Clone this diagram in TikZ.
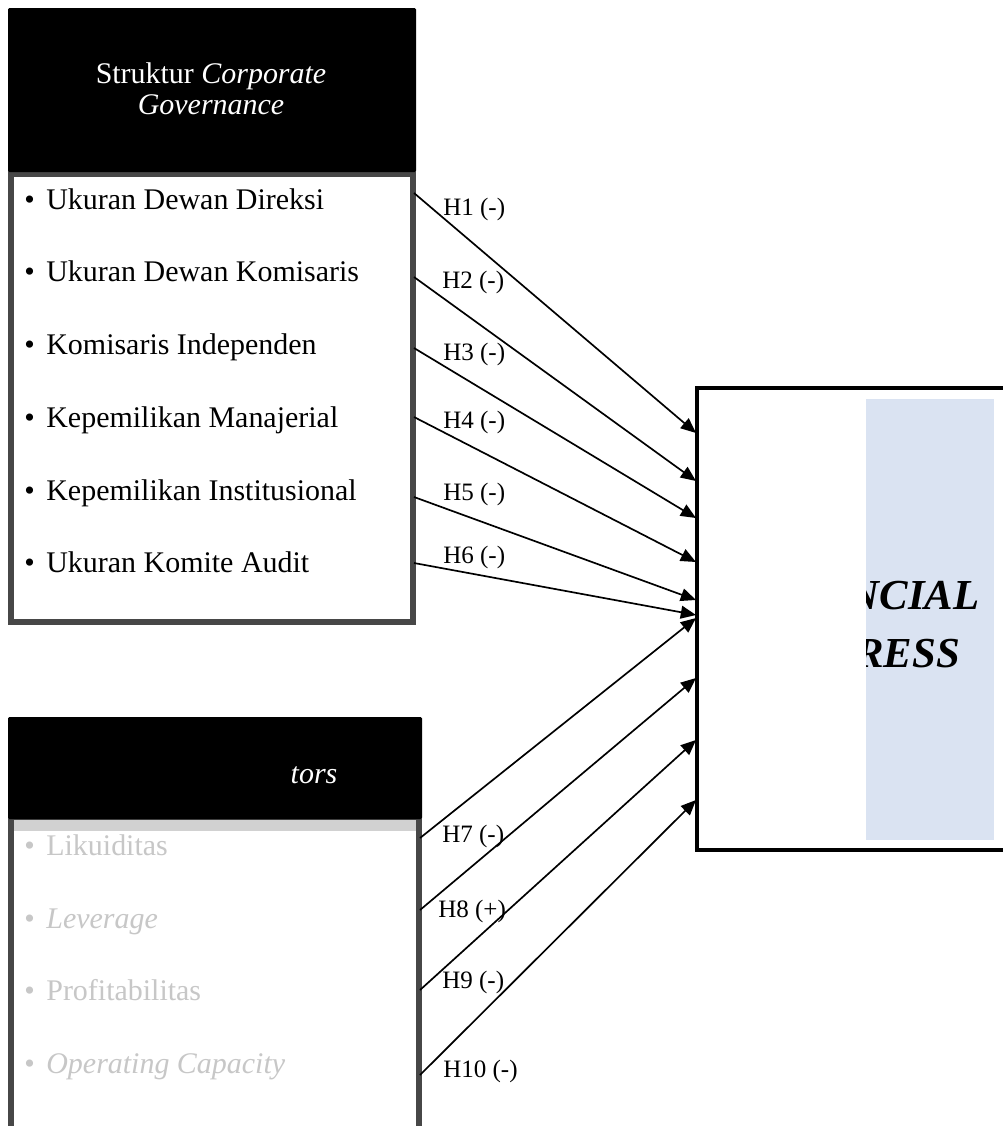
\documentclass[tikz,border=0pt]{standalone}
\usepackage{fontspec}
\setmainfont{Liberation Serif}
\usetikzlibrary{arrows.meta}
\definecolor{fdblue}{RGB}{218,227,242}

\tikzset{
  itemtext/.style={anchor=base west, inner sep=0pt, font=\fontsize{21.3pt}{25pt}\selectfont},
  fadetext/.style={itemtext, text=black!22},
  headtext/.style={anchor=base, inner sep=0pt, text=white, font=\fontsize{21.3pt}{25pt}\selectfont},
  fdtext/.style={anchor=base, inner sep=0pt, font=\fontsize{30.4pt}{34pt}\selectfont\bfseries\itshape},
  hyplabel/.style={anchor=base west, inner sep=0pt, font=\fontsize{17.8pt}{20pt}\selectfont},
  hyparrow/.style={-{Triangle[length=0.38cm,width=0.32cm]}, line width=1.2pt},
  listbox/.style={draw=black!72, line width=4.3pt, fill=white},
}

\begin{document}
\begin{tikzpicture}[x=0.025cm, y=-0.025cm]
    \useasboundingbox (0,0) rectangle (1003,1126);
    \clip (0,0) rectangle (1003,1126);

    % Struktur Corporate Governance
    \draw [listbox] (11,174) rectangle (413,622);
    \fill [black, rounded corners=1pt] (8,8) rectangle (416,172);
    \node [headtext] (cgheadA) at (211,83) {Struktur \textit{Corporate}};
    \node [headtext] (cgheadB) at (211,114) {\textit{Governance}};
    \node [itemtext] (cg1) at (24,209) {\textbullet\hspace{0.29cm}Ukuran Dewan Direksi};
    \node [itemtext] (cg2) at (24,281) {\textbullet\hspace{0.29cm}Ukuran Dewan Komisaris};
    \node [itemtext] (cg3) at (24,354) {\textbullet\hspace{0.29cm}Komisaris Independen};
    \node [itemtext] (cg4) at (24,427) {\textbullet\hspace{0.29cm}Kepemilikan Manajerial};
    \node [itemtext] (cg5) at (24,500) {\textbullet\hspace{0.29cm}Kepemilikan Institusional};
    \node [itemtext] (cg6) at (24,572) {\textbullet\hspace{0.29cm}Ukuran Komite Audit};

    % second list
    \draw [listbox] (11,821) rectangle (419,1160);
    \fill [black!18] (14,820) rectangle (416,831);
    \fill [black, rounded corners=1pt] (8,717) rectangle (422,819);
    \node [headtext] (fihead) at (314,783) {\textit{tors}};
    \node [fadetext] (fi1) at (24,855) {\textbullet\hspace{0.29cm}Likuiditas};
    \node [fadetext] (fi2) at (24,928) {\textbullet\hspace{0.29cm}\textit{Leverage}};
    \node [fadetext] (fi3) at (24,1000) {\textbullet\hspace{0.29cm}Profitabilitas};
    \node [fadetext] (fi4) at (24,1073) {\textbullet\hspace{0.29cm}\textit{Operating Capacity}};

    % Financial Distress
    \draw [line width=2.8pt, fill=white] (697,388) rectangle (1030,850);
    \fill [fdblue] (866,399) rectangle (994,840);
    \begin{scope}
        \clip (866,399) rectangle (994,840);
        \node [fdtext] (fdA) at (862,609) {FINANCIAL};
        \node [fdtext] (fdB) at (859,667) {DISTRESS};
    \end{scope}

    \coordinate (out1) at (414,193);
    \coordinate (out2) at (414,277);
    \coordinate (out3) at (414,348);
    \coordinate (out4) at (414,417);
    \coordinate (out5) at (414,497);
    \coordinate (out6) at (414,563);
    \coordinate (out7) at (420,838);
    \coordinate (out8) at (420,910);
    \coordinate (out9) at (420,990);
    \coordinate (out10) at (420,1075);
    \coordinate (in1) at (696,433);
    \coordinate (in2) at (696,481);
    \coordinate (in3) at (696,518);
    \coordinate (in4) at (696,562);
    \coordinate (in5) at (696,600);
    \coordinate (in6) at (696,615);
    \coordinate (in7) at (696,618);
    \coordinate (in8) at (696,678);
    \coordinate (in9) at (696,740);
    \coordinate (in10) at (696,800);

    \draw [hyparrow] (out1) -- (in1);
    \draw [hyparrow] (out2) -- (in2);
    \draw [hyparrow] (out3) -- (in3);
    \draw [hyparrow] (out4) -- (in4);
    \draw [hyparrow] (out5) -- (in5);
    \draw [hyparrow] (out6) -- (in6);
    \draw [hyparrow] (out7) -- (in7);
    \draw [hyparrow] (out8) -- (in8);
    \draw [hyparrow] (out9) -- (in9);
    \draw [hyparrow] (out10) -- (in10);

    \node [hyplabel] (lh1) at (443,215) {H1 (-)};
    \node [hyplabel] (lh2) at (442,288) {H2 (-)};
    \node [hyplabel] (lh3) at (443,360) {H3 (-)};
    \node [hyplabel] (lh4) at (443,428) {H4 (-)};
    \node [hyplabel] (lh5) at (443,500) {H5 (-)};
    \node [hyplabel] (lh6) at (443,563) {H6 (-)};
    \node [hyplabel] (lh7) at (442,842) {H7 (-)};
    \node [hyplabel] (lh8) at (438,917) {H8 (+)};
    \node [hyplabel] (lh9) at (442,988) {H9 (-)};
    \node [hyplabel] (lh10) at (443,1077) {H10 (-)};
\end{tikzpicture}
\end{document}
